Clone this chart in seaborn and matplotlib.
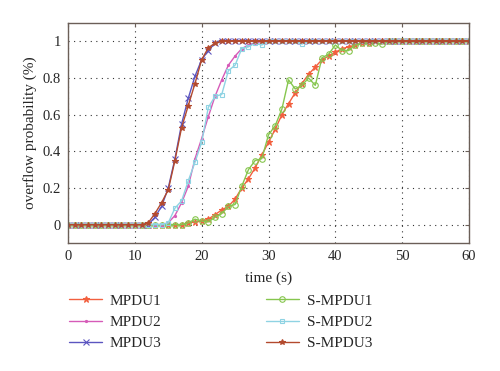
import numpy as np
import pandas as pd
import matplotlib
matplotlib.use("Agg")
import matplotlib.pyplot as plt
import seaborn as sns

# ---------- data (one sample per second) ----------
time_s = list(range(61))

mpdu1 = [0, 0, 0, 0, 0, 0, 0, 0, 0, 0, 0, 0, 0, 0, 0, 0, 0, 0, 0.01, 0.015,
         0.02, 0.03, 0.055, 0.08, 0.10, 0.14, 0.20, 0.25, 0.31, 0.38,
         0.45, 0.52, 0.60, 0.66, 0.72, 0.77, 0.82, 0.86, 0.90, 0.92,
         0.94, 0.96, 0.97, 0.98, 0.99, 0.99, 1, 1, 1, 1,
         1, 1, 1, 1, 1, 1, 1, 1, 1, 1, 1]
mpdu2 = [0, 0, 0, 0, 0, 0, 0, 0, 0, 0, 0, 0, 0, 0, 0, 0.01, 0.05, 0.12, 0.21, 0.36,
         0.47, 0.59, 0.70, 0.79, 0.87, 0.92, 0.96, 0.98, 0.99, 1,
         1, 1, 1, 1, 1, 1, 1, 1, 1, 1,
         1, 1, 1, 1, 1, 1, 1, 1, 1, 1,
         1, 1, 1, 1, 1, 1, 1, 1, 1, 1, 1]
mpdu3 = [0, 0, 0, 0, 0, 0, 0, 0, 0, 0, 0, 0, 0, 0.04, 0.10, 0.20, 0.36, 0.55, 0.69, 0.81,
         0.90, 0.95, 0.99, 1, 1, 1, 1, 1, 1, 1,
         1, 1, 1, 1, 1, 1, 1, 1, 1, 1,
         1, 1, 1, 1, 1, 1, 1, 1, 1, 1,
         1, 1, 1, 1, 1, 1, 1, 1, 1, 1, 1]
smpdu1 = [0, 0, 0, 0, 0, 0, 0, 0, 0, 0, 0, 0, 0, 0, 0, 0, 0, 0, 0.01, 0.03,
          0.02, 0.015, 0.04, 0.06, 0.10, 0.11, 0.21, 0.30, 0.35, 0.36,
          0.49, 0.54, 0.63, 0.79, 0.74, 0.76, 0.80, 0.76, 0.91, 0.93,
          0.98, 0.95, 0.95, 0.98, 0.99, 0.99, 0.99, 0.985, 1, 1,
          1, 1, 1, 1, 1, 1, 1, 1, 1, 1, 1]
smpdu2 = [0, 0, 0, 0, 0, 0, 0, 0, 0, 0, 0, 0, 0, 0, 0, 0.01, 0.09, 0.13, 0.24, 0.34,
          0.45, 0.64, 0.70, 0.71, 0.84, 0.87, 0.96, 0.97, 0.99, 0.98,
          1, 1, 1, 1, 1, 0.985, 1, 1, 1, 1,
          1, 1, 1, 1, 1, 1, 1, 1, 1, 1,
          1, 1, 1, 1, 1, 1, 1, 1, 1, 1, 1]
smpdu3 = [0, 0, 0, 0, 0, 0, 0, 0, 0, 0, 0, 0, 0.01, 0.06, 0.12, 0.19, 0.35, 0.53, 0.65, 0.77,
          0.90, 0.965, 0.99, 1, 1, 1, 1, 1, 1, 1,
          1, 1, 1, 1, 1, 1, 1, 1, 1, 1,
          1, 1, 1, 1, 1, 1, 1, 1, 1, 1,
          1, 1, 1, 1, 1, 1, 1, 1, 1, 1, 1]

series_names = ["MPDU1", "MPDU2", "MPDU3", "S-MPDU1", "S-MPDU2", "S-MPDU3"]
series_vals = [mpdu1, mpdu2, mpdu3, smpdu1, smpdu2, smpdu3]

# ---------- styles ----------
styles = {
    "MPDU1":   dict(color="#f2603f", marker="*", ms=5, mfc="#f2603f"),
    "MPDU2":   dict(color="#d65bb8", marker=".", ms=3, mfc="#d65bb8"),
    "MPDU3":   dict(color="#5b55c0", marker="x", ms=4, mfc="#5b55c0"),
    "S-MPDU1": dict(color="#86c64e", marker="o", ms=4, mfc="none"),
    "S-MPDU2": dict(color="#8fd3e3", marker="s", ms=3.5, mfc="none"),
    "S-MPDU3": dict(color="#b34a2e", marker="*", ms=4, mfc="#b34a2e"),
}

sns.set_style("white")
plt.rcParams["font.family"] = ["Liberation Serif", "DejaVu Serif"]

fig = plt.figure(figsize=(5.0, 3.71), dpi=100)
ax = fig.add_axes([0.136, 0.345, 0.802, 0.593])

for name, vals in zip(series_names, series_vals):
    st = styles[name]
    sns.lineplot(x=time_s, y=vals, ax=ax, color=st["color"], marker=st["marker"],
                 markersize=st["ms"], markerfacecolor=st["mfc"],
                 markeredgecolor=st["color"], markeredgewidth=0.8,
                 linewidth=1.0, label=name, legend=False)

ax.set_xlim(0, 60)
ax.set_ylim(-0.1, 1.1)
ax.set_xticks(range(0, 61, 10))
ax.set_yticks([0, 0.2, 0.4, 0.6, 0.8, 1])
ax.set_yticklabels(["0", "0.2", "0.4", "0.6", "0.8", "1"])
ax.grid(True, linestyle=(0, (1, 4)), color="#333333", linewidth=0.8)
ax.tick_params(direction="in", top=True, right=True, length=3,
               labelsize=10.5, color="#6b5f58", pad=5)
for sp in ax.spines.values():
    sp.set_color("#6b5f58")
    sp.set_linewidth(1.0)

ax.set_xlabel("time (s)", fontsize=11, labelpad=6)
ax.set_ylabel("overflow probability (%)", fontsize=11, labelpad=4)

handles, labels = ax.get_legend_handles_labels()
fig.legend(handles, labels, ncol=2, frameon=False, fontsize=11,
           loc="upper left", bbox_to_anchor=(0.11, 0.245),
           columnspacing=6.8, handlelength=2.2, handletextpad=0.5,
           labelspacing=0.5)

fig.savefig("out.png", dpi=100)
plt.close(fig)
